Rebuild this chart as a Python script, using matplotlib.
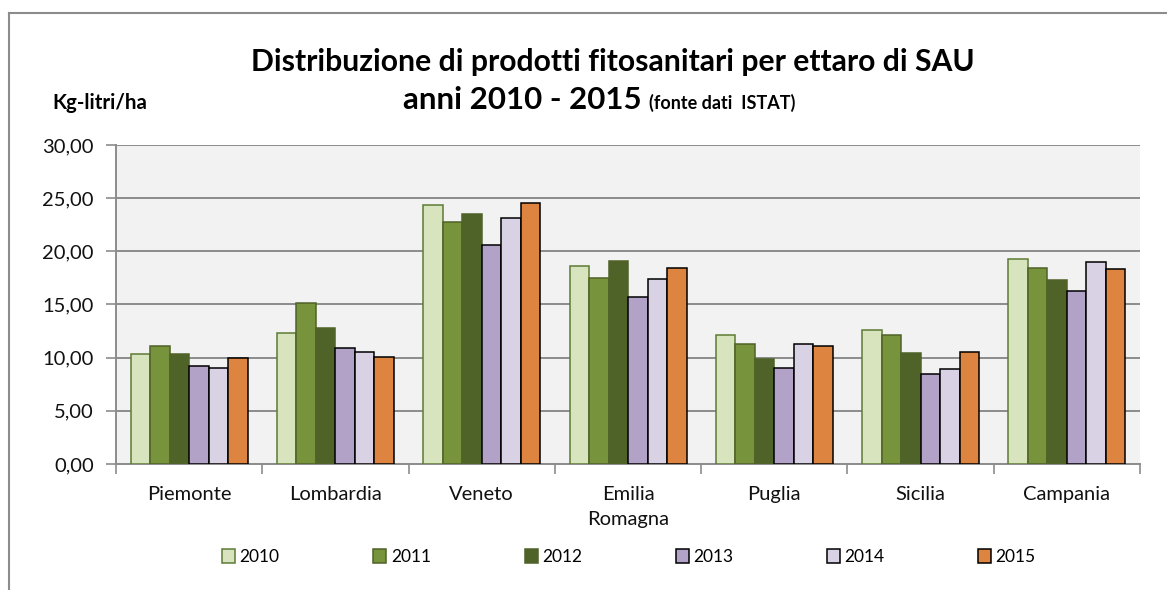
import numpy as np
import matplotlib
matplotlib.use("Agg")
import matplotlib.pyplot as plt
from matplotlib.lines import Line2D
from matplotlib.ticker import MultipleLocator, FuncFormatter

plt.rcParams['font.family'] = ['Lato', 'DejaVu Sans']

# dati (kg-litri/ha)
regioni = ["Piemonte", "Lombardia", "Veneto", "Emilia\nRomagna", "Puglia", "Sicilia", "Campania"]
anni = ["2010", "2011", "2012", "2013", "2014", "2015"]
v2010 = [10.3, 12.3, 24.4, 18.6, 12.1, 12.6, 19.3]
v2011 = [11.1, 15.1, 22.8, 17.5, 11.3, 12.1, 18.4]
v2012 = [10.3, 12.8, 23.5, 19.1, 9.9, 10.4, 17.3]
v2013 = [9.2, 10.9, 20.6, 15.7, 9.0, 8.5, 16.3]
v2014 = [9.0, 10.5, 23.1, 17.4, 11.3, 8.9, 19.0]
v2015 = [10.0, 10.1, 24.5, 18.4, 11.1, 10.5, 18.3]
serie = [v2010, v2011, v2012, v2013, v2014, v2015]

colori = ["#D7E4BD", "#77933C", "#4F6228", "#B3A2C7", "#D9D1E4", "#DD8440"]
bordi = ["#5E7A35", "#4F6228", "#4F6228", "#000000", "#000000", "#000000"]

fig = plt.figure(figsize=(11.67, 5.9), dpi=100)
ax = fig.add_axes([0.0994, 0.2136, 0.8775, 0.5406])
ax.set_facecolor("#F2F2F2")

x = np.arange(len(regioni))
w = 0.8 / len(anni)
for i, (vals, c, b) in enumerate(zip(serie, colori, bordi)):
    ax.bar(x - 0.4 + w * (i + 0.5), vals, width=w, color=c, edgecolor=b,
           linewidth=1.1, label=anni[i], zorder=3)

ax.set_xlim(-0.5, len(regioni) - 0.5)
ax.set_ylim(0, 30)
ax.yaxis.set_major_locator(MultipleLocator(5))
ax.yaxis.set_major_formatter(FuncFormatter(lambda v, p: f"{v:.2f}".replace(".", ",")))
ax.grid(axis="y", color="#8C8C8C", linewidth=1.4, zorder=1)

ax.set_xticks(x)
ax.set_xticklabels(regioni, fontsize=14.5, color="#111111", linespacing=1.55)
ax.set_xticks(np.arange(-0.5, len(regioni)), minor=True)
ax.tick_params(axis="x", which="major", length=0, pad=16)
ax.tick_params(axis="x", which="minor", length=7, width=1.2, color="#8C8C8C")
ax.tick_params(axis="y", length=7, width=1.2, color="#8C8C8C", labelsize=14.5, labelcolor="#111111", pad=9)

for s in ["top", "right"]:
    ax.spines[s].set_visible(False)
for s in ["left", "bottom"]:
    ax.spines[s].set_color("#8C8C8C")
    ax.spines[s].set_linewidth(1.4)

# cornice
fig.add_artist(Line2D([9 / 1167, 1], [1 - 13 / 590, 1 - 13 / 590], color="#8C8C8C", linewidth=1.5))
fig.add_artist(Line2D([9 / 1167, 9 / 1167], [0, 1 - 13 / 590], color="#8C8C8C", linewidth=1.5))

fig.text(613 / 1167, 1 - 62 / 590, "Distribuzione di prodotti fitosanitari per ettaro di SAU",
         ha="center", va="center", fontsize=21.7, fontweight="bold")
fig.text(642 / 1167, 1 - 100 / 590, "anni 2010 - 2015", ha="right", va="center",
         fontsize=22.5, fontweight="bold")
fig.text(649 / 1167, 1 - 103 / 590, "(fonte dati  ISTAT)", ha="left", va="center",
         fontsize=13, fontweight="bold")
fig.text(52 / 1167, 1 - 103 / 590, "Kg-litri/ha", ha="left", va="center",
         fontsize=14.8, fontweight="bold")

ax.legend(loc="center", bbox_to_anchor=(629 / 1167, 1 - 557 / 590), bbox_transform=fig.transFigure,
          ncol=6, frameon=False, fontsize=12.5, handlelength=0.75, handleheight=0.9,
          handletextpad=0.25, columnspacing=5.4)

fig.savefig("out.png", dpi=100)
